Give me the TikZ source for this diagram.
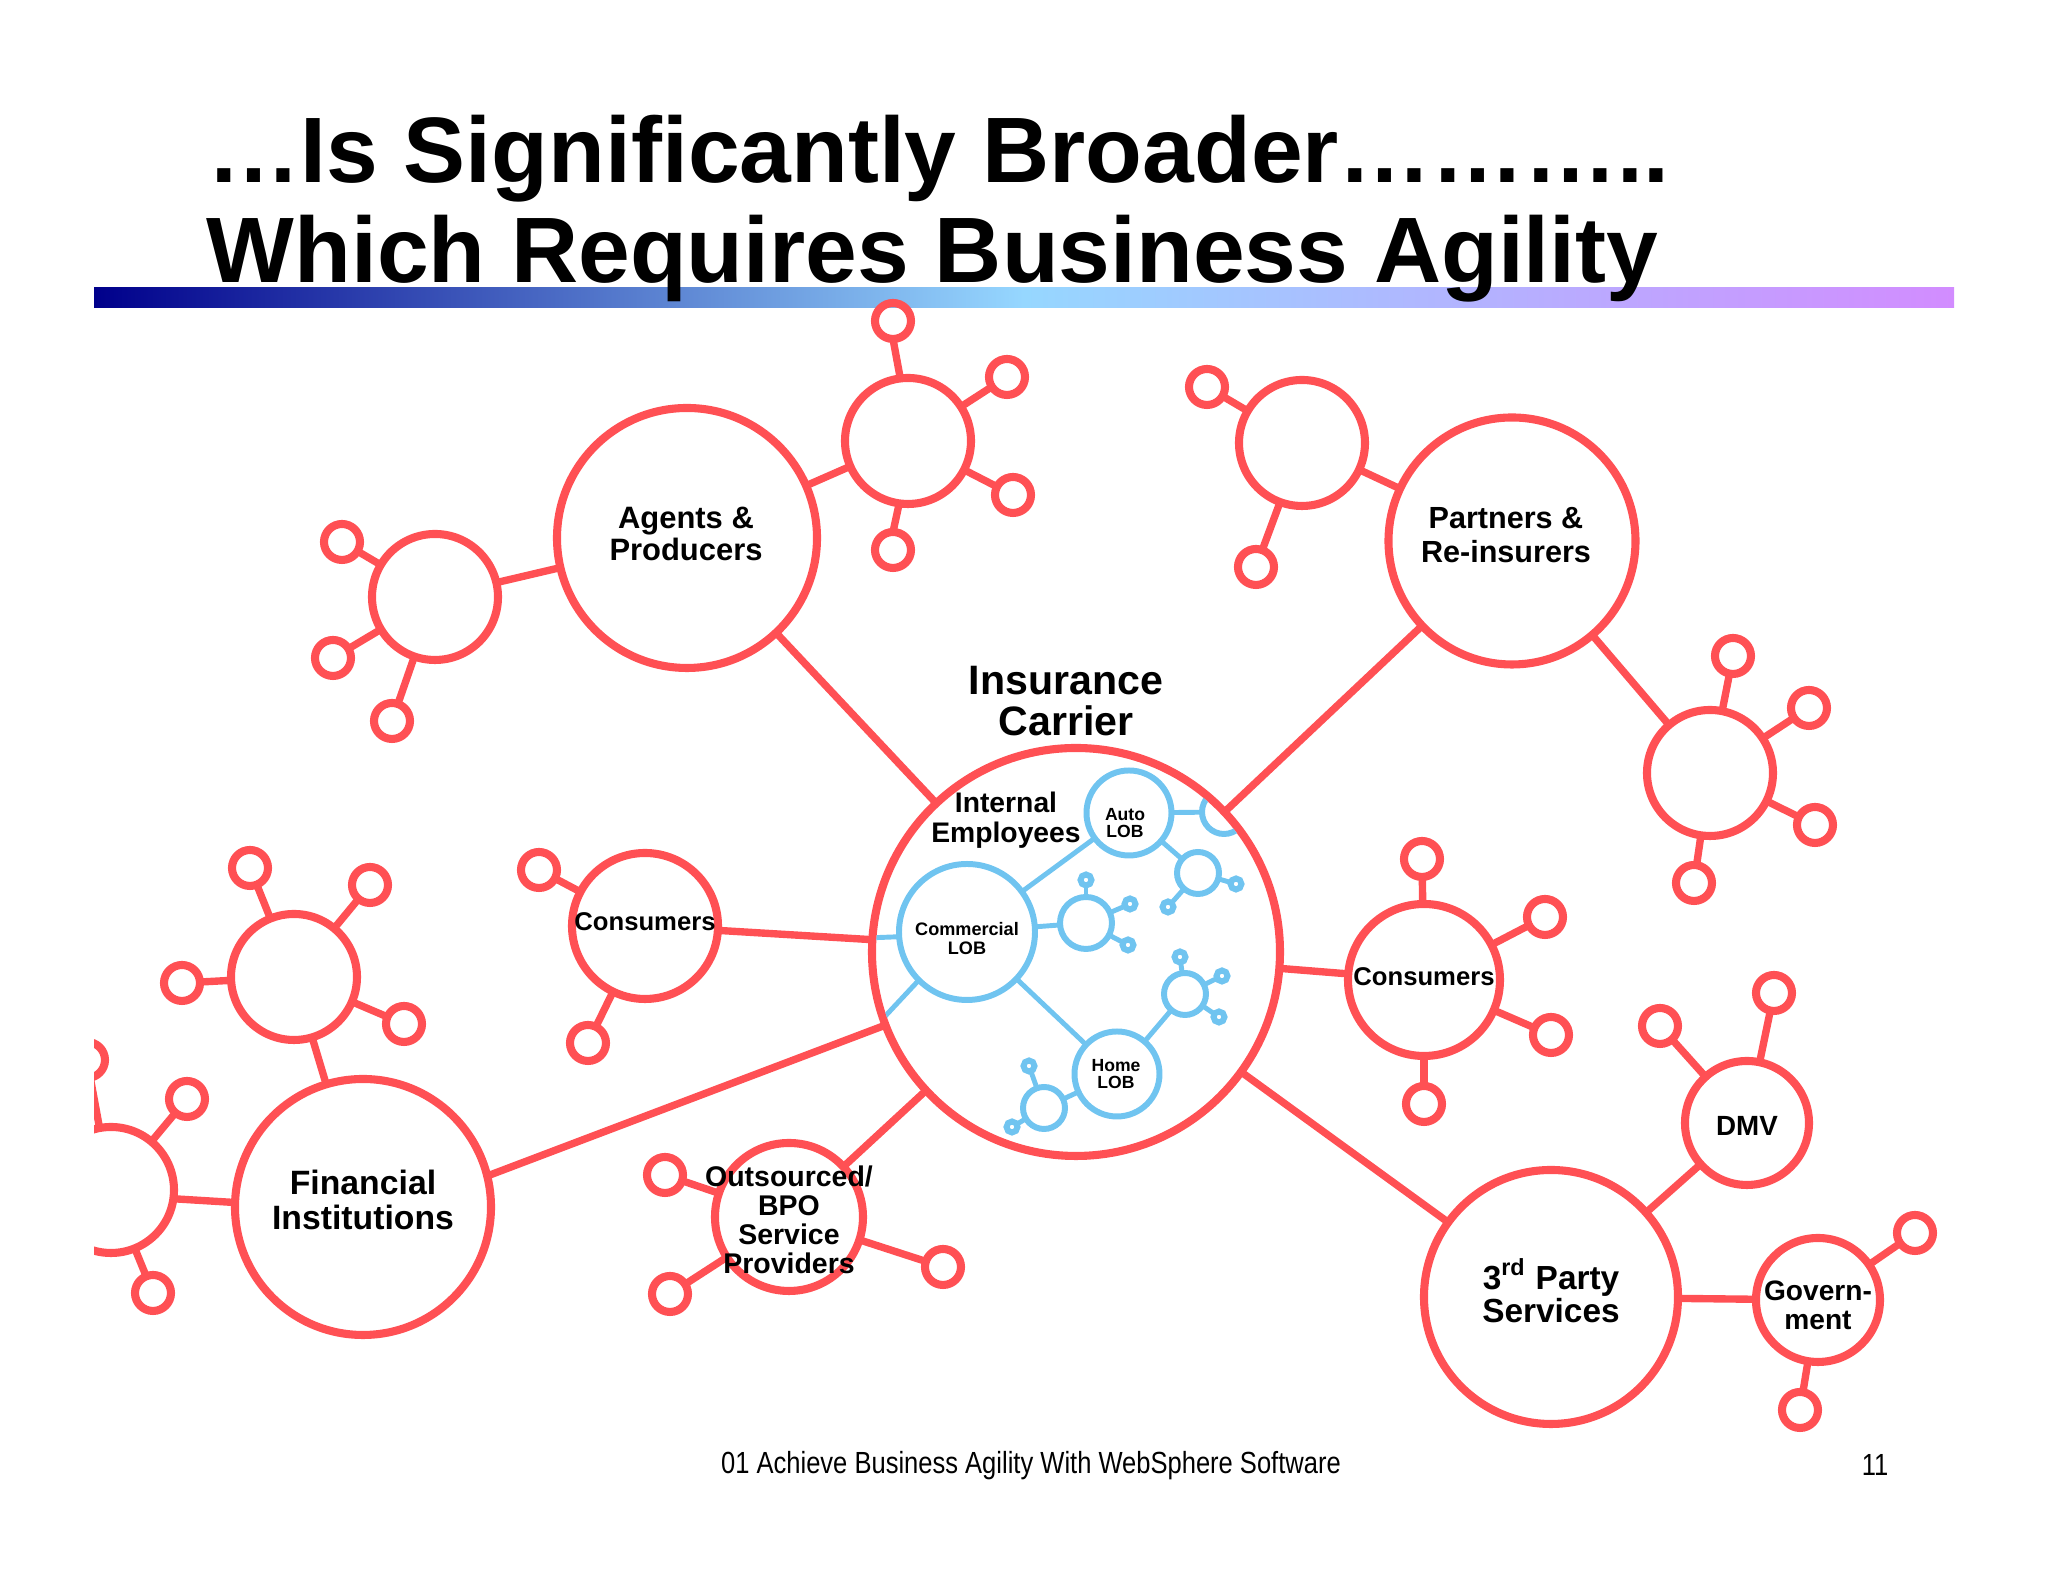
\documentclass[tikz,border=0pt]{standalone}
\usepackage{fontspec}
\setmainfont{Liberation Sans}
\newfontfamily\footfont[FakeStretch=.835]{Liberation Sans}
\usepackage{tikz}
\usetikzlibrary{positioning}
\definecolor{linkred}{RGB}{255,80,84}
\definecolor{lobblue}{RGB}{112,196,240}

\begin{document}
\begin{tikzpicture}
	[on grid, node distance=2cm,
	 orb/.style={circle, draw=linkred, line width=2.3pt, inner sep=0pt, outer sep=0pt, minimum size=#1},
	 orb/.default=1.26cm,
	 dot/.style={orb=.36cm},
	 lob/.style={circle, draw=lobblue, line width=1.7pt, inner sep=0pt, outer sep=0pt, minimum size=#1},
	 lob/.default=.42cm,
	 bead/.style={lob=.11cm},
	 redlink/.style={draw=linkred, line width=2.1pt},
	 bluelink/.style={draw=lobblue, line width=1.4pt},
	 txt/.style 2 args={align=center, inner sep=0pt, font=\bfseries\fontsize{#1}{#2}\selectfont}]
   \useasboundingbox (0,0) rectangle (20.48,15.82);
   \shade[left color={rgb,255:red,0;green,0;blue,139}, right color={rgb,255:red,210;green,140;blue,255}, middle color={rgb,255:red,150;green,215;blue,255}]
      (.94,12.74) rectangle (19.54,12.94);
   \node[anchor=base west, inner sep=0pt, font=\bfseries\fontsize{26.45}{28}\selectfont] (title_1) at (2.07,13.99) {…Is Significantly Broader………..};
   \node[anchor=base west, inner sep=0pt, font=\bfseries\fontsize{26.45}{28}\selectfont] (title_2) at (2.06,12.99) {Which Requires Business Agility};

   \begin{scope}
   \clip (.94,0) rectangle (20.48,15.82);
   \node[orb=4.08cm] (carrier) at (10.76,6.30) {};
   % red side
   \node[orb=2.60cm] (agents) [above left=4.14 and 3.89 of carrier] {};
   \node[orb] (ag_1) [below left=.59 and 2.52 of agents] {};
   \node[dot] (ag_11) [above left=.55 and .93 of ag_1] {};
   \node[dot] (ag_12) [below left=.61 and 1.02 of ag_1] {};
   \node[dot] (ag_13) [below left=1.24 and .43 of ag_1] {};
   \node[orb] (ag_2) [above right=.97 and 2.21 of agents] {};
   \node[dot] (ag_21) [above left=1.20 and .15 of ag_2] {};
   \node[dot] (ag_22) [above right=.64 and .99 of ag_2] {};
   \node[dot] (ag_23) [below right=.54 and 1.05 of ag_2] {};
   \node[dot] (ag_24) [below left=1.09 and .15 of ag_2] {};
   \node[orb=2.47cm] (partners) [above right=4.11 and 4.36 of carrier] {};
   \node[orb] (pa_1) [above left=.98 and 2.10 of partners] {};
   \node[dot] (pa_11) [above left=.56 and .95 of pa_1] {};
   \node[dot] (pa_12) [below left=1.24 and .46 of pa_1] {};
   \node[orb] (pa_2) [below right=2.32 and 1.98 of partners] {};
   \node[dot] (pa_21) [above right=1.17 and .23 of pa_2] {};
   \node[dot] (pa_22) [above right=.65 and .99 of pa_2] {};
   \node[dot] (pa_23) [below right=.52 and 1.05 of pa_2] {};
   \node[dot] (pa_24) [below left=1.10 and .16 of pa_2] {};
   \node[orb=1.52cm] (con_r) [below right=.28 and 3.48 of carrier] {};
   \node[dot] (con_r1) [above left=1.21 and .02 of con_r] {};
   \node[dot] (con_r2) [above right=.63 and 1.21 of con_r] {};
   \node[dot] (con_r3) [below right=.55 and 1.27 of con_r] {};
   \node[dot] (con_r4) [below=1.24 of con_r] {};
   \node[orb=2.54cm] (third) [below right=3.45 and 4.75 of carrier] {};
   \node[orb=1.24cm] (dmv) [above right=1.74 and 1.96 of third] {};
   \node[dot] (dmv_1) [above left=.97 and .87 of dmv] {};
   \node[dot] (dmv_2) [above right=1.30 and .27 of dmv] {};
   \node[orb=1.24cm] (gov) [below right=.03 and 2.67 of third] {};
   \node[dot] (gov_1) [above right=.67 and .97 of gov] {};
   \node[dot] (gov_2) [below left=1.10 and .18 of gov] {};
   \node[orb=1.48cm] (bpo) [below left=2.65 and 2.87 of carrier] {};
   \node[dot] (bpo_1) [above left=.42 and 1.24 of bpo] {};
   \node[dot] (bpo_2) [below left=.77 and 1.19 of bpo] {};
   \node[dot] (bpo_3) [below right=.50 and 1.54 of bpo] {};
   \node[orb=1.46cm] (con_l) [above left=.26 and 4.31 of carrier] {};
   \node[dot] (con_l1) [above left=.56 and 1.06 of con_l] {};
   \node[dot] (con_l2) [below left=1.17 and .57 of con_l] {};
   \node[orb=2.56cm] (fin) [below left=2.55 and 7.13 of carrier] {};
   \node[orb] (fin_1) [above left=2.30 and .69 of fin] {};
   \node[dot] (fin_11) [above left=1.09 and .44 of fin_1] {};
   \node[dot] (fin_12) [above right=.92 and .76 of fin_1] {};
   \node[dot] (fin_13) [below right=.47 and 1.10 of fin_1] {};
   \node[dot] (fin_14) [below left=.06 and 1.12 of fin_1] {};
   \node[orb] (fin_2) [above left=.17 and 2.52 of fin] {};
   \node[dot] (fin_21) [above right=.91 and .76 of fin_2] {};
   \node[dot] (fin_22) [below right=1.03 and .42 of fin_2] {};
   \node[dot] (fin_23) [above left=1.30 and .24 of fin_2] {};
   \path[redlink]
    (carrier) edge (agents) edge (partners) edge (con_r) edge (third) edge (bpo) edge (con_l)
    (carrier.201) edge (fin.14)
    (agents) edge (ag_1) edge (ag_2)
    (ag_1) edge (ag_11) edge (ag_12) edge (ag_13)
    (ag_2.97) edge (ag_21.south)
    (ag_2) edge (ag_22) edge (ag_23)
    (ag_2.262) edge (ag_24.north)
    (partners) edge (pa_1) edge (pa_2)
    (pa_1) edge (pa_11) edge (pa_12)
    (pa_2) edge (pa_21) edge (pa_22) edge (pa_23) edge (pa_24)
    (con_r) edge (con_r1) edge (con_r2) edge (con_r3) edge (con_r4)
    (third) edge (dmv) edge (gov)
    (dmv) edge (dmv_1) edge (dmv_2)
    (gov) edge (gov_1) edge (gov_2)
    (bpo) edge (bpo_1) edge (bpo_2) edge (bpo_3)
    (con_l) edge (con_l1) edge (con_l2)
    (fin) edge (fin_1)
    (fin.178) edge (fin_2.352)
    (fin_1) edge (fin_11) edge (fin_12) edge (fin_13) edge (fin_14)
    (fin_2) edge (fin_21) edge (fin_22) edge (fin_23);
   \end{scope}

   % blue side, kept inside the big ring
   \begin{scope}
   \clip (carrier) circle (2.00);
   \node[lob=1.36cm] (comm) [above left=.20 and 1.09 of carrier] {};
   \node[lob=.52cm] (comm_1) [above right=.09 and 1.19 of comm] {};
   \node[bead] (comm_11) [above=.43 of comm_1] {};
   \node[bead] (comm_12) [above right=.19 and .44 of comm_1] {};
   \node[bead] (comm_13) [below right=.22 and .42 of comm_1] {};
   \node[lob=.85cm] (auto) [above right=1.19 and 1.62 of comm] {};
   \node[lob=.44cm] (au_1) [above right=.01 and .95 of auto] {};
   \node[lob] (au_2) [below right=.60 and .69 of auto] {};
   \node[bead] (au_21) [below right=.11 and .38 of au_2] {};
   \node[bead] (au_22) [below left=.34 and .30 of au_2] {};
   \node[lob=.85cm] (home) [below right=1.42 and 1.50 of comm] {};
   \node[lob] (ho_1) [above right=.80 and .68 of home] {};
   \node[bead] (ho_11) [above left=.37 and .05 of ho_1] {};
   \node[bead] (ho_12) [above right=.18 and .37 of ho_1] {};
   \node[bead] (ho_13) [below right=.23 and .34 of ho_1] {};
   \node[lob] (ho_2) [below left=.34 and .73 of home] {};
   \node[bead] (ho_21) [above left=.42 and .15 of ho_2] {};
   \node[bead] (ho_22) [below left=.19 and .32 of ho_2] {};
   \path[bluelink]
    (comm) edge (comm_1) edge (auto) edge (home)
    (comm.184) edge (carrier.176)
    (comm.225) edge (carrier.199)
    (comm_1) edge (comm_11) edge (comm_12) edge (comm_13)
    (auto) edge (au_1) edge (au_2)
    (au_2) edge (au_21) edge (au_22)
    (home) edge (ho_1) edge (ho_2)
    (ho_1) edge (ho_11) edge (ho_12) edge (ho_13)
    (ho_2) edge (ho_21) edge (ho_22);
   \end{scope}

   \node[txt={11.7}{11.9}] (carrier_t) [above=2.51 of carrier, xshift=-.1cm] {Insurance\\Carrier};
   \node[txt={8.8}{9.3}] (agents_t) [above left=.04 and .01 of agents] {Agents \&\\Producers};
   \node[txt={8.7}{9.6}] (partners_t) [above left=.06 and .06 of partners] {Partners \&\\Re-insurers};
   \node[txt={9.6}{9.7}] (fin_t) [above=.07 of fin] {Financial\\Institutions};
   \node[txt={9.5}{9.5}] (third_t) [above=.06 of third] {3\textsuperscript{rd} Party\\Services};
   \node[txt={7.9}{8}] (dmv_t) [below=.03 of dmv] {DMV};
   \node[txt={8}{8.2}] (gov_t) [below=.05 of gov] {Govern-\\ment};
   \node[txt={7.3}{8}] (con_rt) [above=.03 of con_r] {Consumers};
   \node[txt={7.3}{8}] (con_lt) [above=.04 of con_l] {Consumers};
   \node[txt={8.1}{8.2}] (bpo_t) [below=.03 of bpo] {Outsourced/\\BPO\\Service\\Providers};
   \node[txt={8.05}{8.5}] (emp_t) at (10.06,7.62) {Internal\\Employees};
   \node[txt={5.15}{5.4}] (comm_t) [below=.07 of comm] {Commercial\\LOB};
   \node[txt={5}{5}] (auto_t) [below left=.10 and .04 of auto] {Auto\\LOB};
   \node[txt={5}{5}] (home_t) [left=.01 of home] {Home\\LOB};

   \node[inner sep=0pt, font=\footfont\fontsize{8.7}{10}\selectfont] (foot) at (10.31,1.16) {01 Achieve Business Agility With WebSphere Software};
   \node[inner sep=0pt, font=\footfont\fontsize{8.7}{10}\selectfont] (page) at (18.75,1.17) {11};
\end{tikzpicture}
\end{document}
